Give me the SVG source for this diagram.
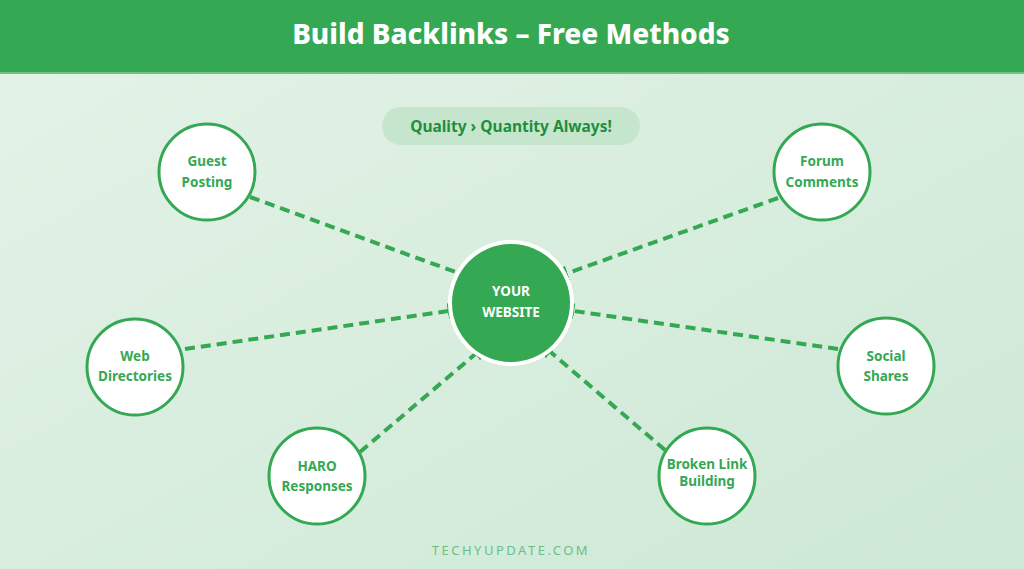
<svg xmlns="http://www.w3.org/2000/svg" width="1024" height="569" viewBox="0 0 1024 569">
<defs>
<linearGradient id="bg" x1="0" y1="0" x2="1" y2="1">
<stop offset="0" stop-color="#e4f3e8"/>
<stop offset="1" stop-color="#cde8d5"/>
</linearGradient>
<marker id="arr" viewBox="0 0 10 10" refX="9" refY="5" markerWidth="4" markerHeight="4" orient="auto" markerUnits="strokeWidth">
<path d="M0,0 L10,5 L0,10 z" fill="#34a853"/>
</marker>
<style>
.t{font-family:"Noto Sans","Liberation Sans",sans-serif;font-weight:700;}
.node circle{fill:#ffffff;stroke:#34a853;stroke-width:3;}
.node text{font-family:"Noto Sans","Liberation Sans",sans-serif;font-weight:700;font-size:13.5px;fill:#34a853;text-anchor:middle;}
.conn line{stroke:#34a853;stroke-width:4;stroke-dasharray:10 6;marker-end:url(#arr);}
</style>
</defs>
<rect width="1024" height="569" fill="url(#bg)"/>
<rect width="1024" height="72" fill="#34a853"/>
<rect y="72" width="1024" height="2" fill="#6cc585"/>
<text class="t" x="511" y="44" font-size="28" fill="#ffffff" text-anchor="middle" style="font-weight:800">Build Backlinks – Free Methods</text>
<rect x="382" y="107" width="258" height="38" rx="19" fill="#c5e6cc"/>
<text class="t" x="511" y="132" font-size="15.5" fill="#1e8e3e" text-anchor="middle">Quality › Quantity Always!</text>
<g class="conn">
<line x1="250" y1="197" x2="472" y2="278"/>
<line x1="778" y1="198" x2="554" y2="278"/>
<line x1="185" y1="349" x2="462" y2="309"/>
<line x1="838" y1="349" x2="560" y2="309"/>
<line x1="360" y1="452" x2="486" y2="345"/>
<line x1="665" y1="450" x2="540" y2="343"/>
</g>
<g id="center">
<circle cx="511" cy="303" r="63" fill="#ffffff"/>
<circle cx="511" cy="303" r="59" fill="#34a853"/>
<text class="t" x="511" y="296" font-size="13.5" fill="#ffffff" text-anchor="middle">YOUR</text>
<text class="t" x="511" y="317" font-size="13.5" fill="#ffffff" text-anchor="middle">WEBSITE</text>
</g>
<g id="guest" class="node"><circle cx="207" cy="172" r="48"/><text x="207" y="166">Guest</text><text x="207" y="187">Posting</text></g>
<g id="forum" class="node"><circle cx="822" cy="172" r="48"/><text x="822" y="166">Forum</text><text x="822" y="187">Comments</text></g>
<g id="web" class="node"><circle cx="135" cy="367" r="48"/><text x="135" y="361">Web</text><text x="135" y="381">Directories</text></g>
<g id="social" class="node"><circle cx="886" cy="366" r="48"/><text x="886" y="361">Social</text><text x="886" y="381">Shares</text></g>
<g id="haro" class="node"><circle cx="317" cy="476" r="48"/><text x="317" y="471">HARO</text><text x="317" y="491">Responses</text></g>
<g id="broken" class="node"><circle cx="707" cy="476" r="48"/><text x="707" y="469">Broken Link</text><text x="707" y="486">Building</text></g>
<text x="511" y="555" font-family="'Noto Sans','Liberation Sans',sans-serif" font-size="13" fill="#6cbf84" text-anchor="middle" letter-spacing="2.5">TECHYUPDATE.COM</text>
</svg>
